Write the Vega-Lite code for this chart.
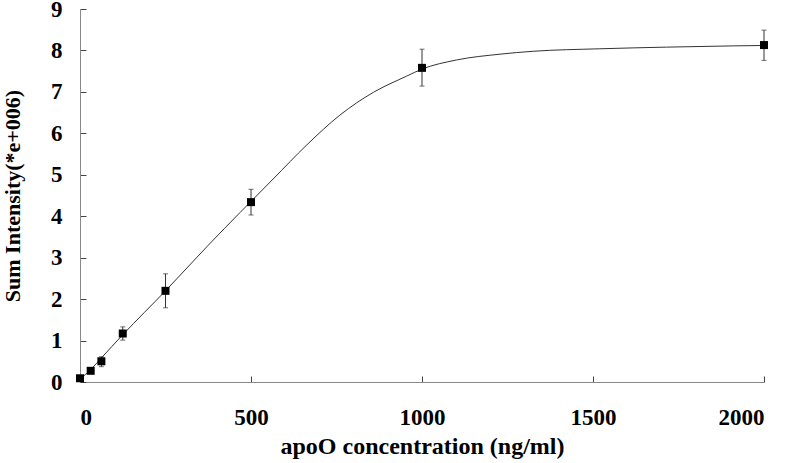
{
  "$schema": "https://vega.github.io/schema/vega-lite/v6.json",
  "width": 684,
  "height": 373,
  "autosize": {"type": "none"},
  "padding": {"left": 80, "top": 9, "right": 25, "bottom": 81},
  "background": "white",
  "datasets": {
    "points": [
      {"conc": 0, "intensity": 0.09, "lo": 0.06, "hi": 0.12},
      {"conc": 31.25, "intensity": 0.27, "lo": 0.23, "hi": 0.31},
      {"conc": 62.5, "intensity": 0.5, "lo": 0.37, "hi": 0.61},
      {"conc": 125, "intensity": 1.17, "lo": 1.01, "hi": 1.33},
      {"conc": 250, "intensity": 2.2, "lo": 1.79, "hi": 2.61},
      {"conc": 500, "intensity": 4.34, "lo": 4.03, "hi": 4.65},
      {"conc": 1000, "intensity": 7.58, "lo": 7.14, "hi": 8.03},
      {"conc": 2000, "intensity": 8.13, "lo": 7.76, "hi": 8.49}
    ],
    "curve": [
      {"conc": 0, "intensity": 0.07},
      {"conc": 31.25, "intensity": 0.3},
      {"conc": 62.5, "intensity": 0.58},
      {"conc": 125, "intensity": 1.14},
      {"conc": 250, "intensity": 2.2},
      {"conc": 375, "intensity": 3.3},
      {"conc": 468, "intensity": 4.09},
      {"conc": 565, "intensity": 4.9},
      {"conc": 663, "intensity": 5.72},
      {"conc": 760, "intensity": 6.44},
      {"conc": 858, "intensity": 6.99},
      {"conc": 955, "intensity": 7.38},
      {"conc": 1000, "intensity": 7.55},
      {"conc": 1101, "intensity": 7.77},
      {"conc": 1228, "intensity": 7.91},
      {"conc": 1325, "intensity": 7.98},
      {"conc": 1520, "intensity": 8.04},
      {"conc": 1715, "intensity": 8.08},
      {"conc": 1910, "intensity": 8.11},
      {"conc": 2000, "intensity": 8.12}
    ]
  },
  "config": {
    "view": {"stroke": null},
    "axis": {
      "grid": false,
      "labelFont": "Liberation Serif",
      "labelFontWeight": "bold",
      "labelFontSize": 23,
      "labelColor": "black",
      "titleFont": "Liberation Serif",
      "titleFontWeight": "bold",
      "titleColor": "black",
      "domainColor": "#888888",
      "tickColor": "#444444",
      "tickSize": -6
    }
  },
  "layer": [
    {
      "data": {"name": "curve"},
      "mark": {"type": "line", "interpolate": "monotone", "color": "#333333", "strokeWidth": 1},
      "encoding": {
        "x": {
          "field": "conc", "type": "quantitative",
          "scale": {"domain": [0, 2000], "nice": false},
          "axis": {"values": [0, 500, 1000, 1500, 2000], "format": "d", "title": "apoO concentration (ng/ml)", "titleFontSize": 24, "labelPadding": 30, "titlePadding": 5}
        },
        "y": {
          "field": "intensity", "type": "quantitative",
          "scale": {"domain": [0, 9], "nice": false},
          "axis": {"values": [0, 1, 2, 3, 4, 5, 6, 7, 8, 9], "title": "Sum Intensity(*e+006)", "titleFontSize": 22, "labelPadding": 24, "titlePadding": 26}
        }
      }
    },
    {
      "data": {"name": "points"},
      "mark": {"type": "rule", "color": "#333333", "strokeWidth": 1},
      "encoding": {
        "x": {"field": "conc", "type": "quantitative"},
        "y": {"field": "lo", "type": "quantitative"},
        "y2": {"field": "hi"}
      }
    },
    {
      "data": {"name": "points"},
      "mark": {"type": "tick", "color": "#333333", "size": 5, "thickness": 1, "orient": "horizontal"},
      "encoding": {
        "x": {"field": "conc", "type": "quantitative"},
        "y": {"field": "lo", "type": "quantitative"}
      }
    },
    {
      "data": {"name": "points"},
      "mark": {"type": "tick", "color": "#333333", "size": 5, "thickness": 1, "orient": "horizontal"},
      "encoding": {
        "x": {"field": "conc", "type": "quantitative"},
        "y": {"field": "hi", "type": "quantitative"}
      }
    },
    {
      "data": {"name": "points"},
      "mark": {"type": "point", "shape": "square", "filled": true, "color": "black", "size": 64, "opacity": 1},
      "encoding": {
        "x": {"field": "conc", "type": "quantitative"},
        "y": {"field": "intensity", "type": "quantitative"}
      }
    }
  ]
}
